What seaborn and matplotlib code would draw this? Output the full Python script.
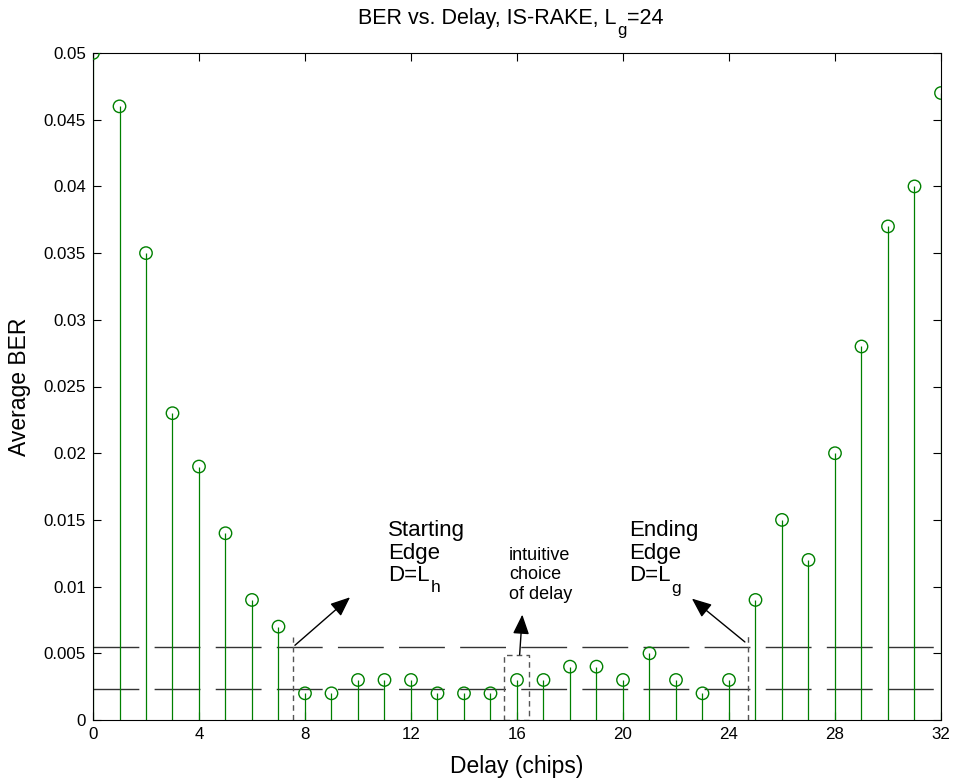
import numpy as np
import pandas as pd
import matplotlib
matplotlib.use("Agg")
import matplotlib.pyplot as plt
import seaborn as sns

delay = list(range(33))
ber = [0.050, 0.046, 0.035, 0.023, 0.019, 0.014, 0.009, 0.007, 0.002, 0.002,
       0.003, 0.003, 0.003, 0.002, 0.002, 0.002, 0.003, 0.003, 0.004, 0.004,
       0.003, 0.005, 0.003, 0.002, 0.003, 0.009, 0.015, 0.012, 0.020, 0.028,
       0.037, 0.040, 0.047]
xticks = [0, 4, 8, 12, 16, 20, 24, 28, 32]
yticks = [0, 0.005, 0.01, 0.015, 0.02, 0.025, 0.03, 0.035, 0.04, 0.045, 0.05]
ytick_labels = ["0", "0.005", "0.01", "0.015", "0.02", "0.025", "0.03",
                "0.035", "0.04", "0.045", "0.05"]
hlines = [0.0055, 0.0023]

sns.set_style("white")
plt.rcParams['font.family'] = ['Liberation Sans', 'DejaVu Sans']
plt.rcParams['text.color'] = 'black'
plt.rcParams['axes.labelcolor'] = 'black'
plt.rcParams['xtick.color'] = 'black'
plt.rcParams['ytick.color'] = 'black'

df = pd.DataFrame({"delay": delay, "ber": ber})

W, H = 954, 782
fig = plt.figure(figsize=(W / 100, H / 100), dpi=100)
ax = fig.add_axes([93 / W, 62 / H, 848 / W, 667 / H])

green = "#008000"
ax.vlines(df["delay"], 0, df["ber"], color=green, lw=0.9, zorder=2)
sns.scatterplot(data=df, x="delay", y="ber", ax=ax, marker="o", s=80,
                facecolor="none", edgecolor=green, linewidth=1.0, zorder=3)

for h in hlines:
    ax.plot([0, 32], [h, h], color="#333333", lw=1.0, dashes=(33, 11), zorder=1)

# vertical dashed markers and rectangle
ax.plot([7.55, 7.55], [0, 0.0062], color="#555555", lw=1.0, dashes=(4, 3))
ax.plot([24.72, 24.72], [0, 0.0064], color="#555555", lw=1.0, dashes=(4, 3))
ax.plot([15.51, 16.45, 16.45, 15.51, 15.51], [0, 0, 0.0049, 0.0049, 0],
        color="#555555", lw=1.0, dashes=(4, 3))

arrowprops = dict(arrowstyle="-|>,head_length=0.6,head_width=0.25",
                  color="black", lw=1.0, mutation_scale=20,
                  shrinkA=0, shrinkB=0)
ax.annotate("", xy=(9.70, 0.0092), xytext=(7.62, 0.0056), arrowprops=arrowprops)
ax.annotate("", xy=(22.6, 0.0091), xytext=(24.6, 0.00585), arrowprops=arrowprops)
ax.annotate("", xy=(16.2, 0.0079), xytext=(16.1, 0.0049), arrowprops=arrowprops)


def ypix(py):
    return (720 - py) / 667 * 0.05


def edge_label(x, word, sub):
    ax.text(x, ypix(536), word, fontsize=16, va="baseline", ha="left")
    ax.text(x, ypix(558.5), "Edge", fontsize=16, va="baseline", ha="left")
    t = ax.text(x, ypix(581), "D=L", fontsize=16, va="baseline", ha="left")
    ax.annotate(sub, xy=(1, 0), xycoords=t, xytext=(1, -6.5),
                textcoords="offset pixels", fontsize=12.5,
                va="baseline", ha="left")


edge_label(11.13, "Starting", "h")
edge_label(20.23, "Ending", "g")
ax.text(15.70, ypix(547), "intuitive\nchoice\nof delay", fontsize=13,
        va="top", ha="left", linespacing=1.19)

ax.set_xlim(0, 32)
ax.set_ylim(0, 0.05)
ax.set_xticks(xticks)
ax.set_xticklabels([str(t) for t in xticks])
ax.set_yticks(yticks)
ax.set_yticklabels(ytick_labels)
ax.tick_params(direction="in", length=6, width=0.8, labelsize=12.2, pad=5,
               top=True, right=True, bottom=True, left=True, colors="black")
for sp in ax.spines.values():
    sp.set_visible(True)
    sp.set_color("black")
    sp.set_linewidth(0.8)

ax.set_xlabel("Delay (chips)", fontsize=16.5)
ax.set_ylabel("Average BER", fontsize=16.5)
ax.xaxis.set_label_coords(0.5, -0.052)
ax.yaxis.set_label_coords(-0.073, 0.5)

# title with MATLAB-like lowered subscript
t1 = fig.text(358 / W, 1 - 24 / H, "BER vs. Delay, IS-RAKE, L",
              fontsize=15.5, ha="left", va="baseline")
tg = ax.annotate("g", xy=(1, 0), xycoords=t1, xytext=(1, -6.5),
                 textcoords="offset pixels", fontsize=12,
                 va="baseline", ha="left", annotation_clip=False)
ax.annotate("=24", xy=(1, 0), xycoords=tg, xytext=(0, 14.5),
            textcoords="offset pixels", fontsize=15.5,
            va="baseline", ha="left", annotation_clip=False)

fig.savefig("out.png", dpi=100)
